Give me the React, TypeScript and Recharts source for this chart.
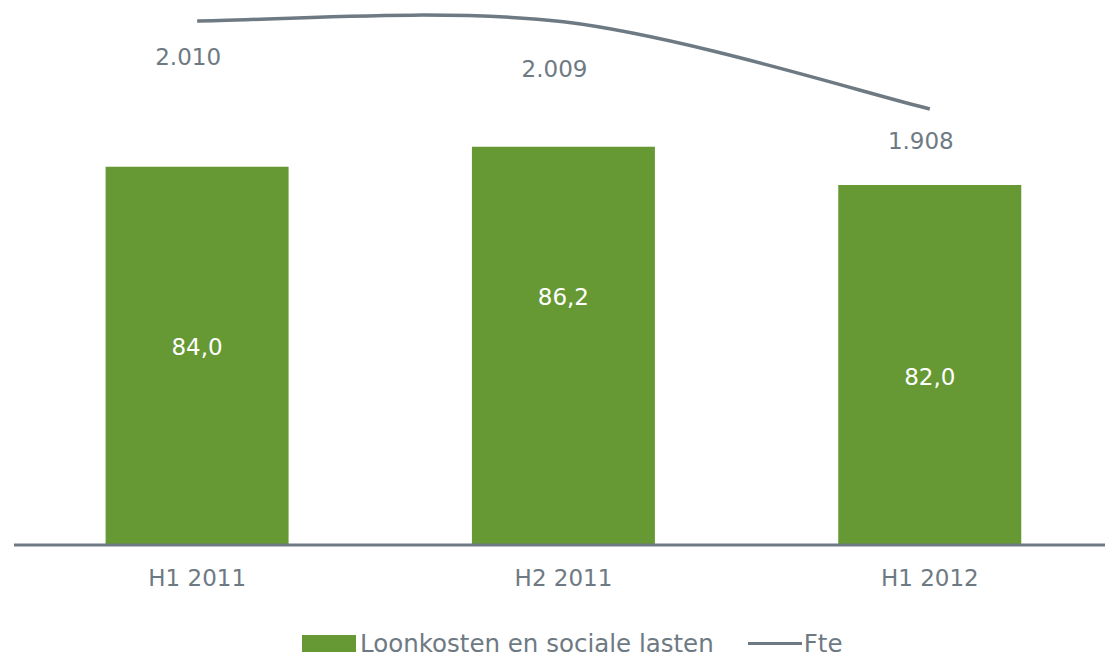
import { ComposedChart, Bar, Line, XAxis, YAxis, LabelList } from 'recharts'

const periods = ['H1 2011', 'H2 2011', 'H1 2012']
const loonkosten = [84.0, 86.2, 82.0]
const fte = [2010, 2009, 1908]

const GREEN = '#669933'
const GREY = '#6e7a83'
const FONT = '"DejaVu Sans", Verdana, sans-serif'

// label nudges, as placed in the original
const barLabelDy = [-9, -49, 12]
const fteLabelDy = [36, 47, 32]

const data = periods.map((p, i) => ({ period: p, loonkosten: loonkosten[i], fte: fte[i] }))

const fmtBar = (v: number) => v.toFixed(1).replace('.', ',')
const fmtFte = (v: number) => String(Math.round(v)).replace(/\B(?=(\d{3})+(?!\d))/g, '.')

// excel-like smoothed line (catmull-rom)
const smoothCurve: any = (context: any) => {
    let pts: [number, number][] = []
    return {
        areaStart() {},
        areaEnd() {},
        lineStart() { pts = [] },
        point(x: number, y: number) { pts.push([+x, +y]) },
        lineEnd() {
            if (!pts.length) return
            context.moveTo(pts[0][0], pts[0][1])
            for (let i = 0; i < pts.length - 1; i++) {
                const p0 = pts[Math.max(i - 1, 0)]
                const p1 = pts[i]
                const p2 = pts[i + 1]
                const p3 = pts[Math.min(i + 2, pts.length - 1)]
                context.bezierCurveTo(
                    p1[0] + (p2[0] - p0[0]) / 6, p1[1] + (p2[1] - p0[1]) / 6,
                    p2[0] - (p3[0] - p1[0]) / 6, p2[1] - (p3[1] - p1[1]) / 6,
                    p2[0], p2[1]
                )
            }
        },
    }
}

const BarLabel = (props: any) => {
    const { x, y, width, height, value, index } = props
    return (
        <text
            x={x + width / 2}
            y={y + height / 2 + (barLabelDy[index] || 0)}
            fill="#ffffff"
            fontSize={23}
            fontFamily={FONT}
            textAnchor="middle"
            dominantBaseline="central"
        >
            {fmtBar(value)}
        </text>
    )
}

const LineLabel = (props: any) => {
    const { x, y, value, index } = props
    return (
        <text
            x={x - 9}
            y={y + (fteLabelDy[index] || 36)}
            fill={GREY}
            fontSize={23}
            fontFamily={FONT}
            textAnchor="middle"
            dominantBaseline="central"
        >
            {fmtFte(value)}
        </text>
    )
}

const App = () => {
    return (
        <div style={{ position: 'absolute', left: 0, top: 0, width: 1105, height: 657, overflow: 'hidden', background: '#fff' }}>
            <ComposedChart
                width={1120}
                height={657}
                data={data}
                margin={{ top: 5, right: 7, bottom: 0, left: 14 }}
                barCategoryGap="25%"
            >
                <XAxis
                    dataKey="period"
                    height={112}
                    tickLine={false}
                    tickSize={0}
                    tickMargin={25}
                    axisLine={{ stroke: GREY, strokeWidth: 3 }}
                    tick={{ fill: GREY, fontSize: 23, fontFamily: FONT }}
                />
                <YAxis yAxisId="left" hide domain={[42.4, 101.8]} />
                <YAxis yAxisId="right" hide orientation="right" domain={[1402.7, 2028.5]} />
                <Bar yAxisId="left" dataKey="loonkosten" fill={GREEN} isAnimationActive={false}>
                    <LabelList dataKey="loonkosten" content={<BarLabel />} />
                </Bar>
                <Line
                    yAxisId="right"
                    type={smoothCurve}
                    dataKey="fte"
                    stroke={GREY}
                    strokeWidth={3.5}
                    dot={false}
                    activeDot={false}
                    isAnimationActive={false}
                >
                    <LabelList dataKey="fte" content={<LineLabel />} />
                </Line>
            </ComposedChart>
            <div
                style={{
                    position: 'absolute',
                    top: 631,
                    left: 302,
                    display: 'flex',
                    alignItems: 'center',
                    fontFamily: FONT,
                    fontSize: 24.5,
                    color: GREY,
                    lineHeight: '25px',
                    height: 25,
                    whiteSpace: 'nowrap',
                }}
            >
                <span style={{ display: 'inline-block', width: 54, height: 17, background: GREEN, marginRight: 4 }} />
                <span>Loonkosten en sociale lasten</span>
                <span style={{ display: 'inline-block', width: 54, height: 3, background: GREY, marginLeft: 34, marginRight: 2 }} />
                <span>Fte</span>
            </div>
        </div>
    )
}

export default App
